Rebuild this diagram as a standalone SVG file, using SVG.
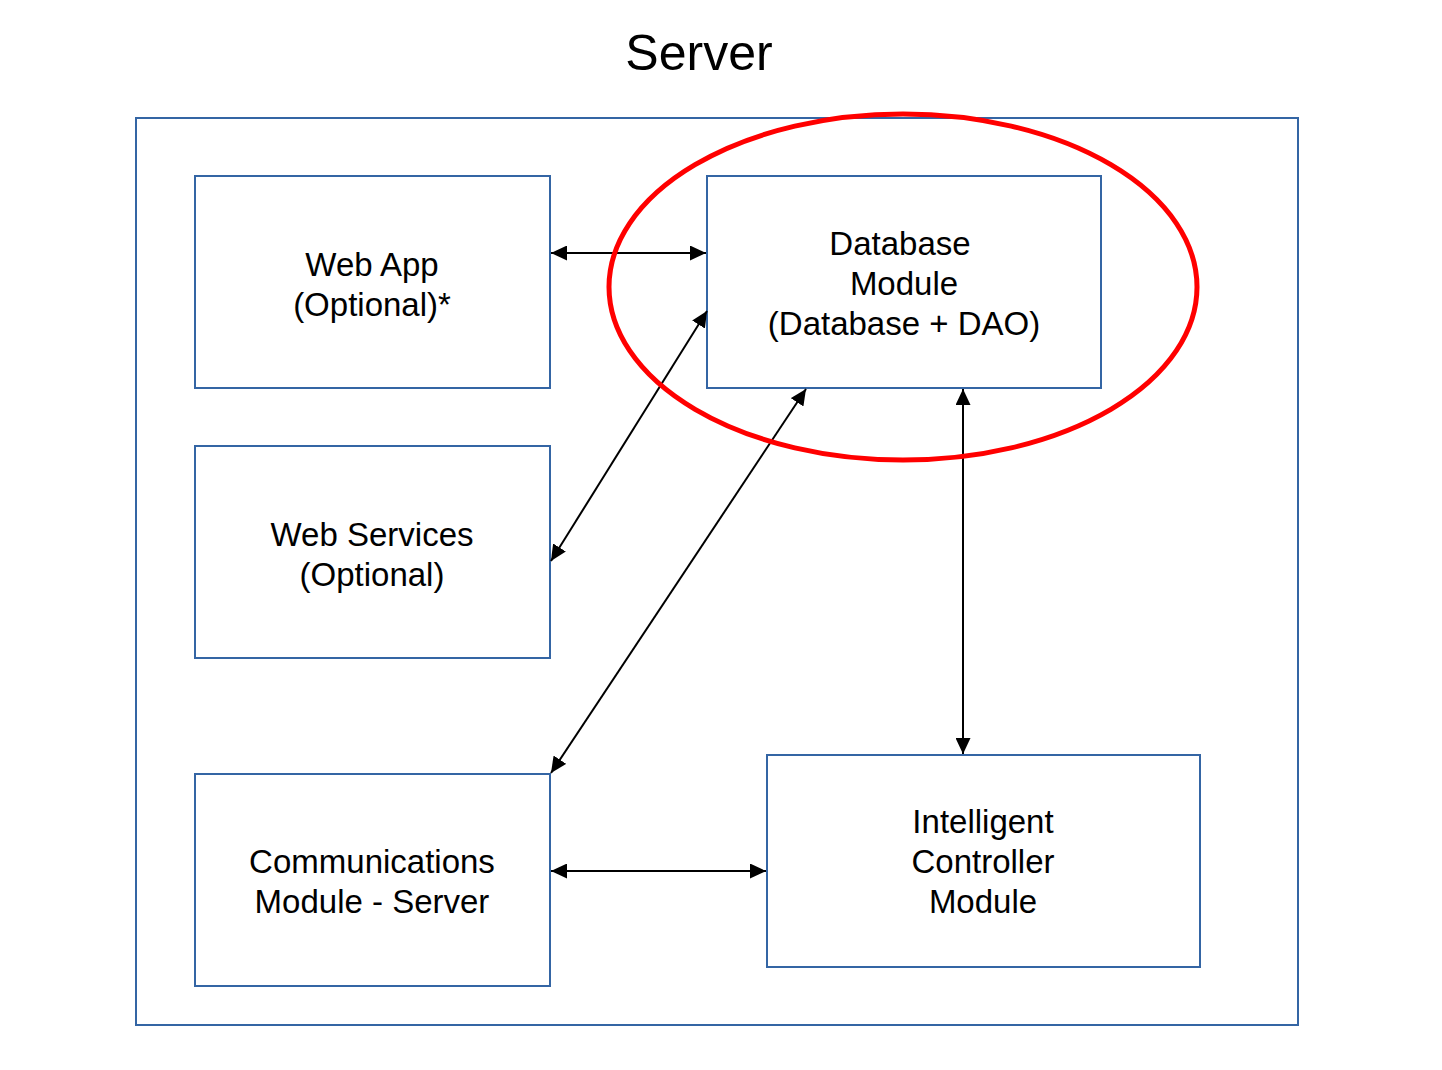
<svg xmlns="http://www.w3.org/2000/svg" width="1442" height="1070" viewBox="0 0 1442 1070">
<style>
.box{fill:#fff;stroke:#3465a4;stroke-width:2}
.t{font-family:"Liberation Sans",Arial,sans-serif;font-size:33px;fill:#000;text-anchor:middle}
.c{stroke:#000;stroke-width:2;fill:none;marker-start:url(#a);marker-end:url(#a)}
</style>
<defs>
<marker id="a" viewBox="0 0 16 15" refX="16" refY="7.5" markerWidth="16" markerHeight="15" markerUnits="userSpaceOnUse" orient="auto-start-reverse">
<path d="M0,0 L16,7.5 L0,15 z" fill="#000"/>
</marker>
</defs>
<rect width="1442" height="1070" fill="#fff"/>
<text x="699" y="70" font-family="Liberation Sans,Arial,sans-serif" font-size="50" text-anchor="middle">Server</text>
<g id="server"><rect class="box" x="136" y="118" width="1162" height="907"/></g>
<g id="webapp"><rect class="box" x="195" y="176" width="355" height="212"/>
<text class="t" x="372" y="276">Web App</text><text class="t" x="372" y="316">(Optional)*</text></g>
<g id="webservices"><rect class="box" x="195" y="446" width="355" height="212"/>
<text class="t" x="372" y="546">Web Services</text><text class="t" x="372" y="586">(Optional)</text></g>
<g id="comms"><rect class="box" x="195" y="774" width="355" height="212"/>
<text class="t" x="372" y="873">Communications</text><text class="t" x="372" y="913">Module - Server</text></g>
<g id="database"><rect class="box" x="707" y="176" width="394" height="212"/>
<text class="t" x="900" y="255">Database</text><text class="t" x="904" y="295">Module</text><text class="t" x="904" y="335">(Database + DAO)</text></g>
<g id="controller"><rect class="box" x="767" y="755" width="433" height="212"/>
<text class="t" x="983" y="833">Intelligent</text><text class="t" x="983" y="873">Controller</text><text class="t" x="983" y="913">Module</text></g>
<g id="connectors">
<line class="c" x1="551" y1="253" x2="706" y2="253"/>
<line class="c" x1="551" y1="561" x2="707" y2="311"/>
<line class="c" x1="551" y1="773" x2="806" y2="389"/>
<line class="c" x1="963" y1="389" x2="963" y2="754"/>
<line class="c" x1="551" y1="871" x2="766" y2="871"/>
</g>
<g id="highlight"><ellipse cx="903" cy="287" rx="294" ry="173" fill="none" stroke="#f00" stroke-width="5"/></g>
</svg>
